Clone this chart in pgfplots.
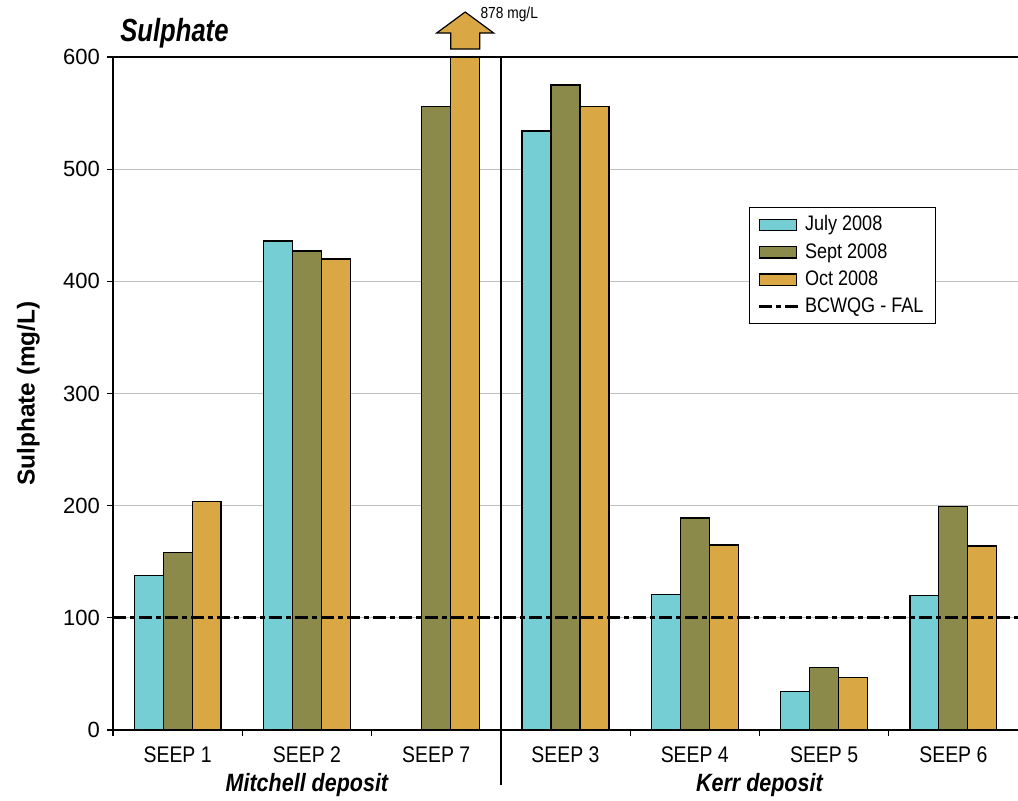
\documentclass[border=0pt]{standalone}
\usepackage{fontspec}
\setmainfont{Liberation Sans}
\newfontfamily\cond{Liberation Sans}[FakeStretch=0.86]
\newfontfamily\condt{Liberation Sans}[FakeStretch=0.8]
\usepackage{pgfplots}
\pgfplotsset{compat=1.18}
\definecolor{cjul}{HTML}{74CED4}
\definecolor{csep}{HTML}{8B8A4B}
\definecolor{coct}{HTML}{D9A743}
\pgfplotsset{
  barleg/.style={legend image code/.code={\draw[##1, line width=0.6pt] (0pt,-2.8pt) rectangle (18.5pt,2.8pt);}},
  lineleg/.style={legend image code/.code={\draw[##1] (0pt,0pt) -- (20pt,0pt);}},
}
\begin{document}
\begin{tikzpicture}
\path[use as bounding box] (-56.5pt,-35pt) rectangle (452.5pt,365pt);
\begin{axis}[
  scale only axis, width=452.5pt, height=336.5pt,
  xmin=-0.5, xmax=6.5, ymin=0, ymax=600,
  axis x line*=bottom, axis y line*=left,
  axis line style={line width=0.8pt, -},
  xtick={0,...,6},
  xticklabels={SEEP 1,SEEP 2,SEEP 7,SEEP 3,SEEP 4,SEEP 5,SEEP 6},
  major x tick style={draw=none},
  minor xtick={-0.5,0.5,1.5,3.5,4.5,5.5},
  tick align=outside, major tick length=3pt, minor tick length=3pt,
  ytick={0,100,...,600},
  ymajorgrids, grid style={gray!50, line width=0.5pt},
  tick style={black, line width=0.6pt},
  ticklabel style={font=\fontsize{11}{13}\selectfont},
  xticklabel style={yshift=-2pt, font=\cond\fontsize{11.3}{13}\selectfont},
  /pgf/number format/assume math mode=true,
  ylabel={Sulphate (mg/L)},
  ylabel style={font=\bfseries\fontsize{12.2}{14}\selectfont, at={(axis description cs:-0.0935,0.5)}, anchor=center},
  legend style={at={(0.703,0.777)}, anchor=north west, draw=black, line width=0.6pt,
    font=\cond\fontsize{10.5}{12}\selectfont, row sep=0.8pt, inner xsep=4pt, inner ysep=2pt, cells={anchor=west}},
]
\addplot[ybar, bar width=0.224, bar shift=-0.224, fill=cjul, draw=black, line width=0.6pt, barleg]
  coordinates {(0,138) (1,436) (3,534) (4,121) (5,34) (6,120)};
\addplot[ybar, bar width=0.224, bar shift=0, fill=csep, draw=black, line width=0.6pt, barleg]
  coordinates {(0,158) (1,427) (2,556) (3,575) (4,189) (5,56) (6,199)};
\addplot[ybar, bar width=0.224, bar shift=0.224, fill=coct, draw=black, line width=0.6pt, barleg]
  coordinates {(0,204) (1,420) (2,878) (3,556) (4,165) (5,47) (6,164)};
\addplot[black, line width=1.6pt, dash pattern=on 6.5pt off 2pt on 2.5pt off 2pt, lineleg]
  coordinates {(-0.5,100) (6.5,100)};
\legend{July 2008, Sept 2008, Oct 2008, BCWQG - FAL}
\coordinate (TL) at (axis cs:-0.5,600);
\coordinate (TR) at (axis cs:6.5,600);
\coordinate (ST) at (axis cs:2.5,600);
\coordinate (SB) at (axis cs:2.5,0);
\coordinate (AR) at (axis cs:2.224,600);
\coordinate (GM) at (axis cs:1,0);
\coordinate (GK) at (axis cs:4.5,0);
\end{axis}
\draw[line width=0.8pt] (TL) -- (TR);
\draw[line width=0.8pt] (ST) -- ([yshift=-27.5pt]SB);
\draw[fill=coct, line width=0.6pt]
  ([shift={(-7.25pt,4pt)}]AR) -- ([shift={(-7.25pt,12pt)}]AR) -- ([shift={(-14.25pt,12pt)}]AR)
  -- ([shift={(0pt,22.5pt)}]AR) -- ([shift={(14.25pt,12pt)}]AR) -- ([shift={(7.25pt,12pt)}]AR)
  -- ([shift={(7.25pt,4pt)}]AR) -- cycle;
\node[anchor=west, inner sep=0pt, font=\cond\fontsize{8}{9}\selectfont] at ([shift={(7.5pt,21.5pt)}]AR) {878 mg/L};
\node[anchor=base west, inner sep=0pt, font=\condt\bfseries\itshape\fontsize{16}{19}\selectfont] at ([shift={(3.5pt,8pt)}]TL) {Sulphate};
\node[font=\cond\bfseries\itshape\fontsize{12.5}{15}\selectfont] at ([yshift=-27.5pt]GM) {Mitchell deposit};
\node[font=\cond\bfseries\itshape\fontsize{12.5}{15}\selectfont] at ([yshift=-27.5pt]GK) {Kerr deposit};
\end{tikzpicture}
\end{document}
